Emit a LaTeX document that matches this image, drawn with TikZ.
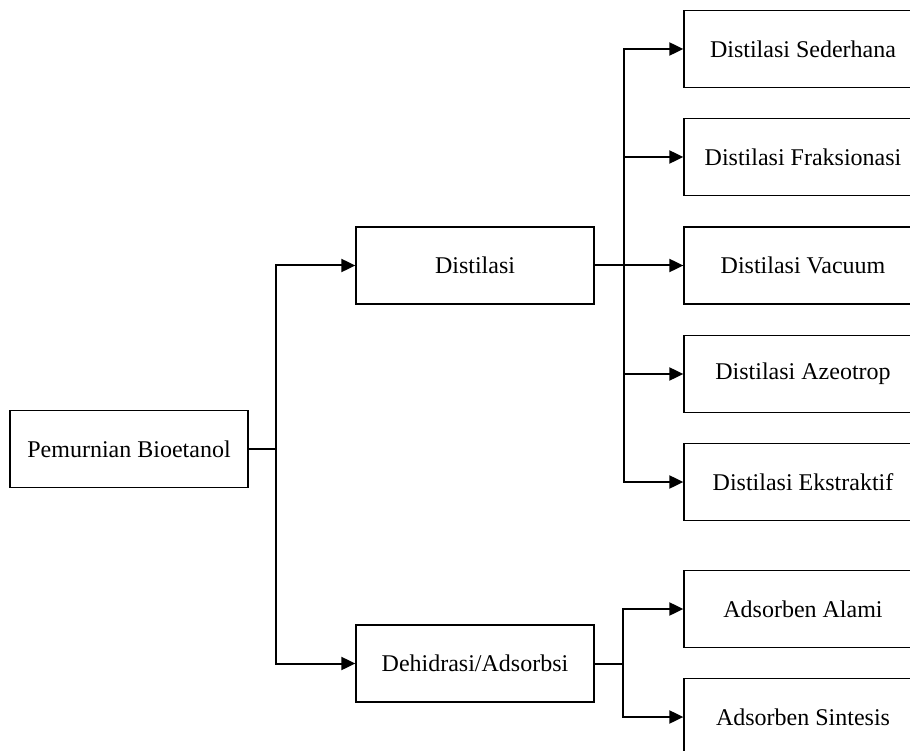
\documentclass[tikz,border=0pt]{standalone}
\usepackage{fontspec}
\setmainfont{Liberation Serif}
\usetikzlibrary{arrows.meta}
\begin{document}
\begin{tikzpicture}[x=1pt,y=-1pt,
  box/.style={draw, line width=1.3pt, minimum width=238pt, minimum height=77pt, inner sep=0pt,
    font=\fontsize{24}{28}\selectfont, anchor=center},
  conn/.style={line width=2pt},
  arr/.style={line width=2pt, -{Triangle[length=14pt,width=13pt]}}]
\useasboundingbox (0,0) rectangle (910,751);
\clip (0,0) rectangle (910,751);
\node[box] (pb) at (129,449) {Pemurnian Bioetanol};
\node[box] (dist) at (475,265.5) {Distilasi};
\node[box] (dehi) at (475,663.5) {Dehidrasi/Adsorbsi};
\node[box] (d1) at (803,49) {Distilasi Sederhana};
\node[box] (d2) at (803,157) {Distilasi Fraksionasi};
\node[box] (d3) at (803,265.5) {Distilasi Vacuum};
\node[box] (d4) at (803,374) {Distilasi Azeotrop};
\node[box] (d5) at (803,482) {Distilasi Ekstraktif};
\node[box] (a1) at (803,609) {Adsorben Alami};
\node[box] (a2) at (803,717) {Adsorben Sintesis};
\draw[conn] (pb.east) -- ++(27,0) coordinate (t0);
\draw[arr] (t0) |- (dist.west);
\draw[arr] (t0) |- (dehi.west);
\draw[conn] (dist.east) -- ++(29,0) coordinate (t1);
\foreach \n in {d1,d2,d3,d4,d5} \draw[arr] (t1) |- (\n.west);
\draw[conn] (dehi.east) -- ++(28,0) coordinate (t2);
\draw[arr] (t2) |- (a1.west);
\draw[arr] (t2) |- (a2.west);
\end{tikzpicture}
\end{document}
